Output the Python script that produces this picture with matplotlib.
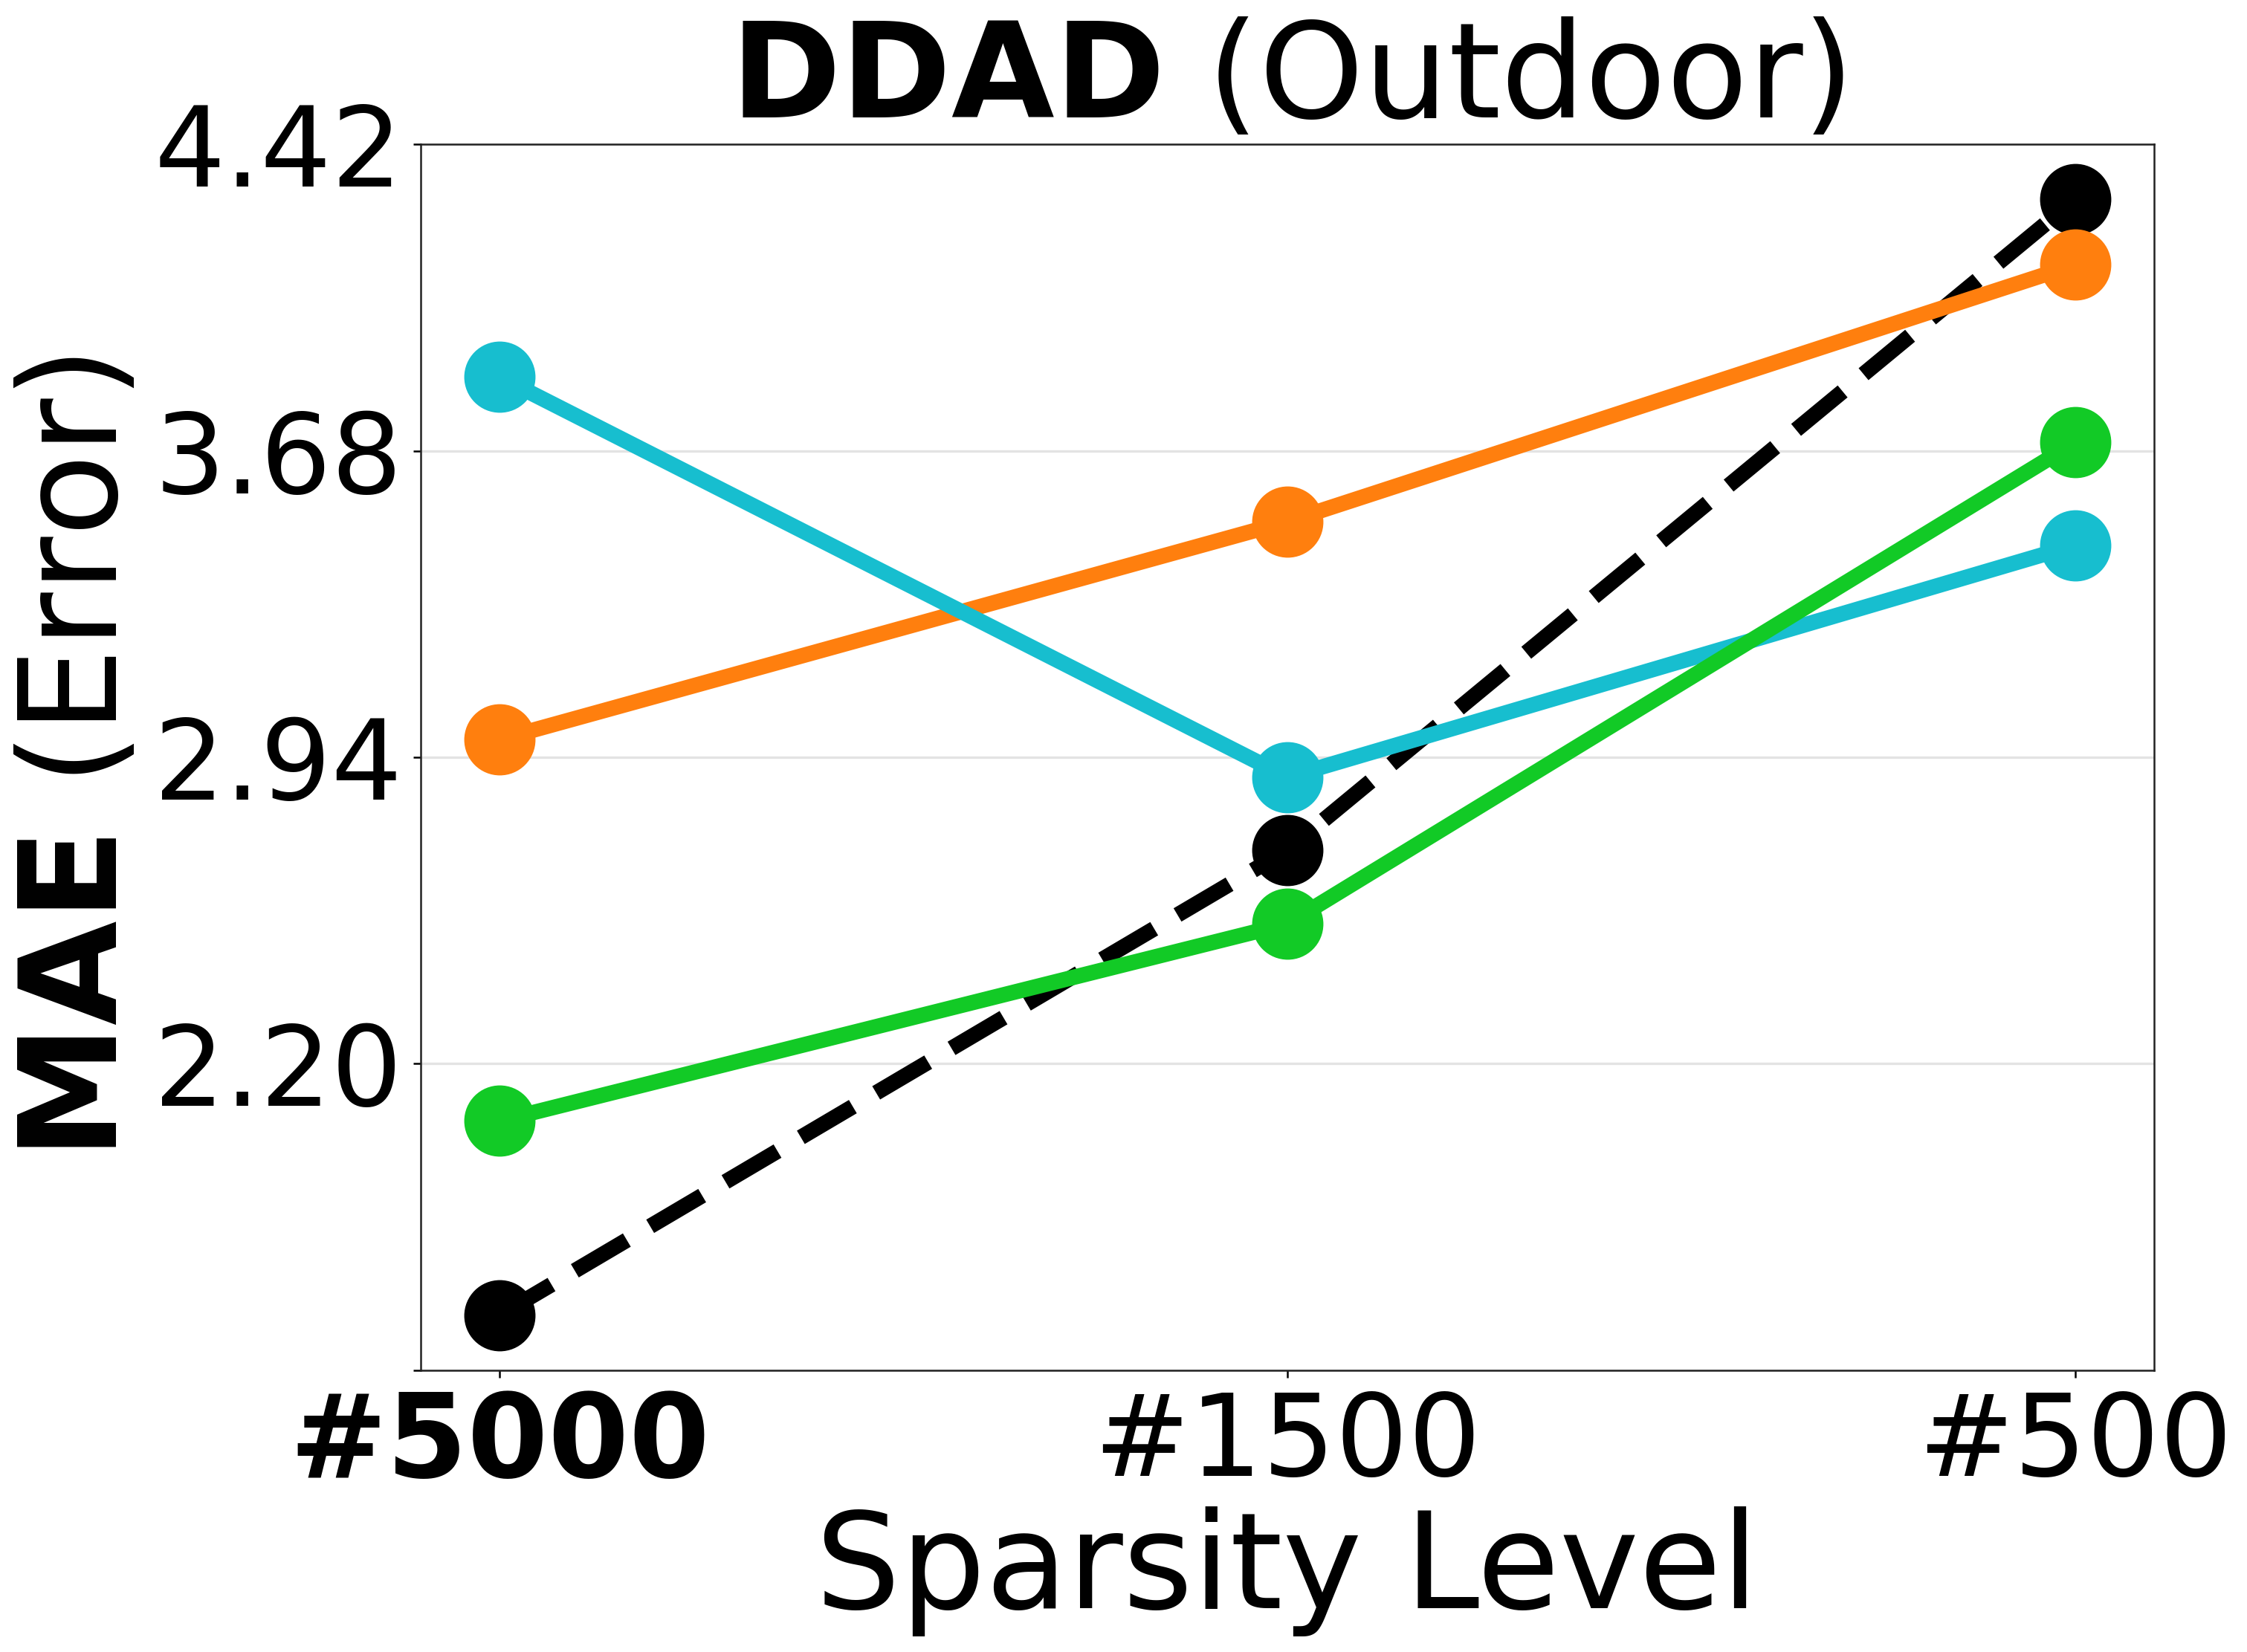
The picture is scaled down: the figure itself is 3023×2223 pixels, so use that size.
import matplotlib
matplotlib.use("Agg")
import matplotlib.pyplot as plt

plt.rcParams['font.family'] = ['DejaVu Sans']
plt.rcParams['mathtext.fontset'] = 'dejavusans'

# ---- data ----
categories = ["#5000", "#1500", "#500"]
series_black = [1.593, 2.716, 4.287]
series_orange = [2.983, 3.509, 4.129]
series_cyan = [3.858, 2.892, 3.452]
series_green = [2.062, 2.538, 3.700]
ytick_values = [1.46, 2.20, 2.94, 3.68, 4.42]
ytick_labels = ["", "2.20", "2.94", "3.68", "4.42"]

W, H, DPI = 3023, 2223, 300
fig = plt.figure(figsize=(W / DPI, H / DPI), dpi=DPI)
L, R, T, B = 566 / W, 2898 / W, 1 - 194 / H, 1 - 1844 / H
ax = fig.add_axes([L, B, R - L, T - B])

x = list(range(len(categories)))
lw, ms = 5.0, 22
ax.plot(x, series_black, color='black', lw=lw, marker='o', ms=ms,
        linestyle=(0, (3.9, 1.75)), zorder=3)
ax.plot(x, series_orange, color='#ff7f0e', lw=lw, marker='o', ms=ms, zorder=4)
ax.plot(x, series_cyan, color='#17becf', lw=lw, marker='o', ms=ms, zorder=5)
ax.plot(x, series_green, color='#12ca26', lw=lw, marker='o', ms=ms, zorder=6)

ax.set_xlim(-0.1, 2.1)
ax.set_ylim(1.46, 4.42)
ax.set_yticks(ytick_values)
ax.set_yticklabels(ytick_labels)
ax.set_xticks(x)
ax.set_xticklabels(categories)
ax.tick_params(axis='both', length=2.4, width=0.6)
ax.tick_params(axis='y', labelsize=36)
ax.tick_params(axis='x', labelsize=37, pad=3.5)
ax.get_xticklabels()[0].set_fontweight('bold')
ax.get_xticklabels()[0].set_fontsize(37.5)

ax.grid(axis='y', color='#e3e3e3', lw=0.8, zorder=0)
ax.set_axisbelow(True)
for s in ax.spines.values():
    s.set_linewidth(0.6)
    s.set_color('#222222')

cx = (L + R) / 2
fig.text(cx, 1 - 158 / H, r'$\mathbf{DDAD}$ (Outdoor)', fontsize=43,
         ha='center', va='baseline')
fig.text(cx, 1 - 2164 / H, 'Sparsity Level', fontsize=43.3,
         ha='center', va='baseline')
fig.text(157 / W, (T + B) / 2, r'$\mathbf{MAE}$ (Error)', fontsize=43.6,
         ha='center', va='baseline', rotation=90, rotation_mode='anchor')

fig.savefig('out.png', dpi=DPI)
